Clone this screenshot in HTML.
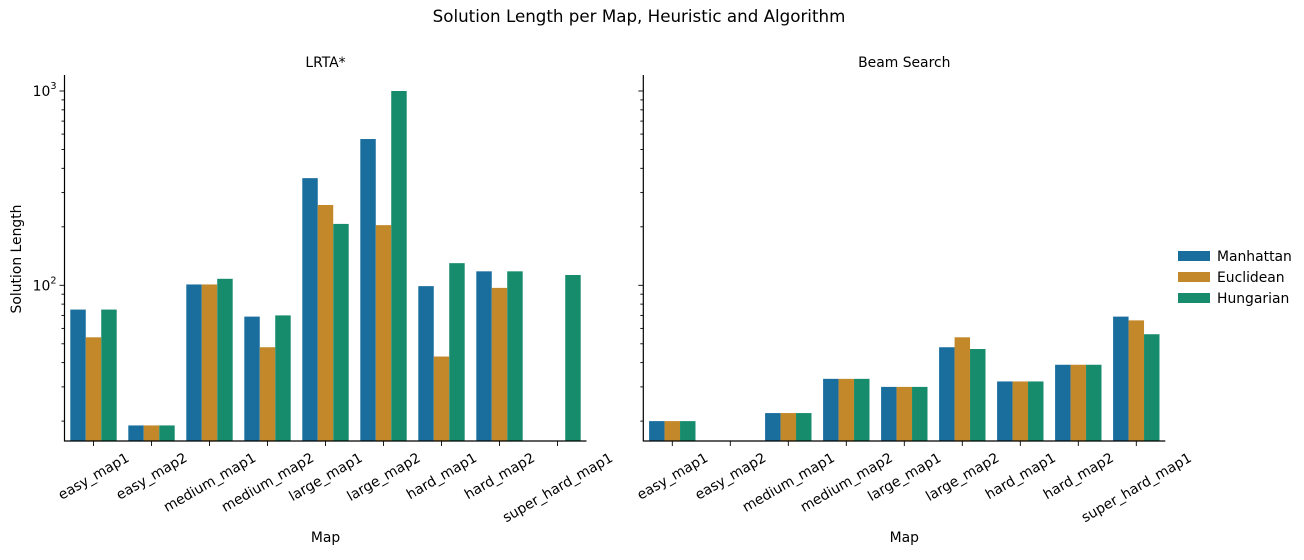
<!DOCTYPE html>
<html><head><meta charset="utf-8"><style>
body{margin:0;background:#fff;}
svg text{font-family:"DejaVu Sans","Liberation Sans",sans-serif;fill:#000;}
</style></head><body>
<svg id="c" width="1304" height="555" xmlns="http://www.w3.org/2000/svg">
<text x="639" y="22" font-size="16.7" text-anchor="middle">Solution Length per Map, Heuristic and Algorithm</text>
</svg>
<script>
const categories=["easy_map1","easy_map2","medium_map1","medium_map2","large_map1","large_map2","hard_map1","hard_map2","super_hard_map1"];
const series=["Manhattan","Euclidean","Hungarian"];
const lrtaManhattan=[75,19,101,69,356,566,99,118,null];
const lrtaEuclidean=[54,19,101,48,259,204,43,97,null];
const lrtaHungarian=[75,19,108,70,207,1000,130,118,113];
const beamManhattan=[20,null,22,33,30,48,32,39,69];
const beamEuclidean=[20,null,22,33,30,54,32,39,66];
const beamHungarian=[20,null,22,33,30,47,32,39,56];
const colors=["#1a6e9e","#c3882a","#178c6c"];
const svg=document.getElementById('c');
const NS="http://www.w3.org/2000/svg";
const FS=13.9;
function mk(t,a){const e=document.createElementNS(NS,t);for(const k in a)e.setAttribute(k,a[k]);svg.appendChild(e);return e;}
const yTop=75,yBot=441,y100=285.3,dec=194.3;
function y(v){return y100-(Math.log10(v)-2)*dec;}
function panel(x0,title,data,showY,pname){
  const w=522,step=w/categories.length,bw=step*0.8/3;
  let t=mk('text',{x:x0+w/2,y:67,'font-size':FS,'text-anchor':'middle'});t.textContent=title;
  
  
  data.forEach((arr,s)=>{arr.forEach((v,i)=>{if(v==null)return;
    const cx=x0+step*(i+0.5);const yy=y(v);
    const r=mk('rect',{x:cx-1.5*bw+s*bw,y:yy,width:bw,height:yBot-yy,fill:colors[s]});
    
    
  });});
  let a=mk('line',{x1:x0,y1:yTop,x2:x0,y2:yBot+0.5,stroke:'#000','stroke-width':1.2});
  
  let b=mk('line',{x1:x0,y1:yBot,x2:x0+w,y2:yBot,stroke:'#000','stroke-width':1.2});
  
  for(let d=1;d<=3;d++){for(let m=1;m<10;m++){const v=m*Math.pow(10,d);const yy=y(v);
    if(yy<yTop||yy>yBot)continue;
    mk('line',{x1:x0-(m==1?5:3),y1:yy,x2:x0,y2:yy,stroke:'#000','stroke-width':0.9});
    if(m==1&&showY){const tx=mk('text',{x:x0-8,y:yy+5,'font-size':FS,'text-anchor':'end'});
      tx.innerHTML='10<tspan font-size="9.7" dy="-7">'+d+'</tspan>';
      }
  }}
  categories.forEach((c,i)=>{const cx=x0+step*(i+0.5);
    mk('line',{x1:cx,y1:yBot,x2:cx,y2:yBot+5,stroke:'#000','stroke-width':0.9});
    const tx=mk('text',{x:0,y:0,'font-size':FS,'text-anchor':'middle',dy:'0.35em'});
    tx.textContent=c;
    const L=tx.getComputedTextLength();
    const h=L*0.5+FS*1.2*0.866;
    tx.setAttribute('transform',`translate(${cx},${449+h/2}) rotate(-30)`);
    
  });
  const xl=mk('text',{x:x0+w/2,y:542,'font-size':FS,'text-anchor':'middle'});xl.textContent='Map';
  
}
panel(64.5,'LRTA*',[lrtaManhattan,lrtaEuclidean,lrtaHungarian],true,'lrta');
panel(643.3,'Beam Search',[beamManhattan,beamEuclidean,beamHungarian],false,'beam');
const yl=mk('text',{x:0,y:0,'font-size':FS,'text-anchor':'middle',transform:'translate(21,259) rotate(-90)'});
yl.textContent='Solution Length';
series.forEach((s,i)=>{const yy=256+i*21;
  const r=mk('rect',{x:1178,y:yy-5,width:32,height:10,fill:colors[i]});
  
  const t=mk('text',{x:1217,y:yy+5,'font-size':FS});t.textContent=s;
  
});
</script>
</body></html>
